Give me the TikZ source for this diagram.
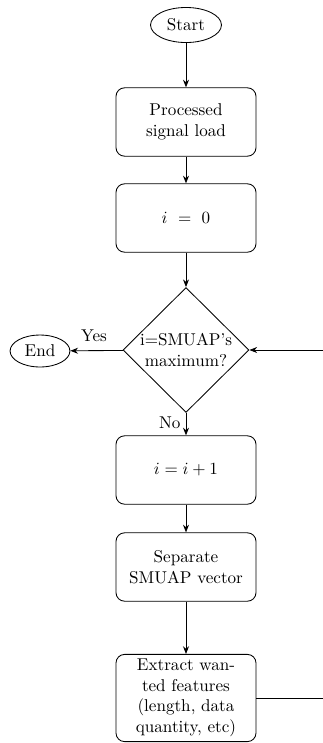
\documentclass[tikz,border=0pt]{standalone}
\usetikzlibrary{shapes.geometric,arrows.meta}
\begin{document}
\begin{tikzpicture}[x=0.585pt,y=-0.585pt,
  line width=0.5pt,
  proc/.style={draw,rounded corners=5pt,minimum width=81.9pt,minimum height=40pt,align=center,inner sep=2pt},
  term/.style={draw,ellipse,inner sep=0pt},
  dec/.style={draw,diamond,aspect=1,inner sep=0pt,minimum width=73.7pt,minimum height=73pt,align=center},
  arr/.style={-{Stealth[length=4.5pt,width=3.5pt]}},
  lbl/.style={inner sep=1pt}]
\useasboundingbox (0,0) rectangle (323,743);
\node[term,minimum width=41.5pt,minimum height=20.5pt] (start) at (186,25) {Start};
\node[proc] (load) at (186,122) {Processed\\signal load};
\node[proc] (init) at (186,218) {$i\ =\ 0$};
\node[dec] (check) at (186,350) {i=SMUAP's\\maximum?};
\node[term,minimum width=35pt,minimum height=18.7pt] (end) at (40,351) {End};
\node[proc] (inc) at (186,470) {$i = i + 1$};
\node[proc] (sep) at (186,567) {Separate\\SMUAP vector};
\node[proc,minimum height=51pt] (ext) at (186,698) {Extract wan-\\ted features\\(length, data\\quantity, etc)};
\coordinate (rin) at (323,350);
\coordinate (rout) at (323,698);
\draw[arr] (start) -- (load);
\draw[arr] (load) -- (init);
\draw[arr] (init) -- (check);
\draw[arr] (check) -- node[lbl,above=4pt,pos=0.55] {Yes} (end);
\draw[arr] (check) -- node[lbl,left=2pt,pos=0.45] {No} (inc);
\draw[arr] (rin) -- (check);
\draw[arr] (inc) -- (sep);
\draw[arr] (sep) -- (ext);
\draw (ext) -- (rout);
\end{tikzpicture}
\end{document}
